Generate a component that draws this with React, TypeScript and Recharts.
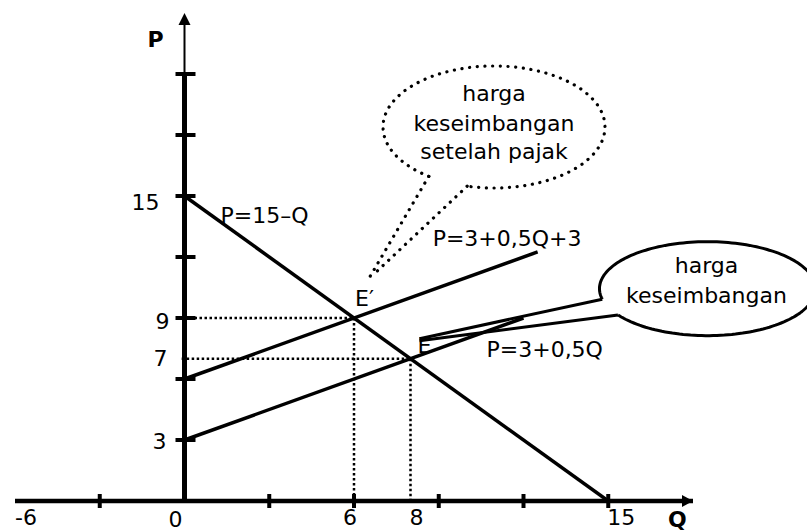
import React from 'react';
import { LineChart, Line, XAxis, YAxis, ReferenceLine, ReferenceDot } from 'recharts';

// market lines (Q, P)
const demand = [{ q: 0, p: 15 }, { q: 15, p: 0 }];
const supply = [{ q: 0, p: 3 }, { q: 12, p: 9 }];
const supplyTax = [{ q: 0, p: 6 }, { q: 12.5, p: 12.25 }];

// equilibria before / after tax
const eq = { q: 8, p: 7 };
const eqTax = { q: 6, p: 9 };

const xTicks = [-3, 3, 6, 9, 12, 15];
const yTicks = [3, 6, 9, 12, 15, 18, 21];
const xLabels = [
  { q: -6, text: '-6' },
  { q: 0, text: '0' },
  { q: 6, text: '6' },
  { q: 8, text: '8' },
  { q: 15, text: '15' },
];
const yLabels = [
  { p: 15, text: '15' },
  { p: 9, text: '9' },
  { p: 7, text: '7' },
  { p: 3, text: '3' },
];

const FONT = '"DejaVu Sans", Verdana, sans-serif';
const FS = 22;
const INK = '#000';

// small nudges for the axis numbers
const xNudge: Record<string, [number, number, string]> = {
  '-6': [0, 24, 'start'],
  '0': [-9, 26, 'middle'],
  '6': [-4, 24, 'middle'],
  '8': [6, 24, 'middle'],
  '15': [-1, 24, 'start'],
};
const yNudge: Record<string, [number, number]> = {
  '15': [-25, 14],
  '9': [-15, 11],
  '7': [-17, 7],
  '3': [-18, 9],
};

const textShape = (text: string, dx: number, dy: number, anchor = 'start', bold = false) =>
  (props: any) => (
    <text
      x={props.cx + dx}
      y={props.cy + dy}
      textAnchor={anchor as any}
      fontFamily={FONT}
      fontSize={FS}
      fontWeight={bold ? 'bold' : 'normal'}
      fill={INK}
    >
      {text}
    </text>
  );

const xTickShape = (props: any) => (
  <line x1={props.cx} x2={props.cx} y1={props.cy - 7} y2={props.cy + 7} stroke={INK} strokeWidth={4} />
);
const yTickShape = (props: any) => (
  <line x1={props.cx - 9} x2={props.cx + 11} y1={props.cy} y2={props.cy} stroke={INK} strokeWidth={4} />
);
const arrowUp = (props: any) => (
  <polygon points={`${props.cx},${props.cy} ${props.cx - 6},${props.cy + 12} ${props.cx + 6},${props.cy + 12}`} fill={INK} />
);
const arrowRight = (props: any) => (
  <polygon points={`${props.cx},${props.cy} ${props.cx - 11},${props.cy - 6} ${props.cx - 11},${props.cy + 6}`} fill={INK} />
);

const ellPt = (cx: number, cy: number, rx: number, ry: number, deg: number) => {
  const t = (deg * Math.PI) / 180;
  return [cx + rx * Math.cos(t), cy + ry * Math.sin(t)];
};

// ellipse outline with an opening between two angles (where the tail attaches)
const openEllipse = (cx: number, cy: number, rx: number, ry: number, gapA: number, gapB: number) => {
  const end = gapA + 360;
  const pts: number[][] = [];
  for (let a = gapB; a < end; a += 2) pts.push(ellPt(cx, cy, rx, ry, a));
  pts.push(ellPt(cx, cy, rx, ry, end));
  return pts.map((p, i) => `${i ? 'L' : 'M'}${p[0].toFixed(1)},${p[1].toFixed(1)}`).join(' ');
};

interface CalloutSpec {
  ox: number; oy: number; rx: number; ry: number;
  gapA: number; gapB: number;
  tipA: [number, number]; tipB: [number, number];
  lines: string[]; lineY: number[]; textDx: number;
  dotted: boolean;
}

const calloutShape = (s: CalloutSpec) => (props: any) => {
  const cx = props.cx + s.ox;
  const cy = props.cy + s.oy;
  const bA = ellPt(cx, cy, s.rx, s.ry, s.gapA);
  const bB = ellPt(cx, cy, s.rx, s.ry, s.gapB);
  const stroke = s.dotted
    ? { stroke: INK, strokeWidth: 3.2, strokeDasharray: '0.1 7.6', strokeLinecap: 'round' as const }
    : { stroke: INK, strokeWidth: 3, strokeLinejoin: 'round' as const };
  return (
    <g>
      <path d={openEllipse(cx, cy, s.rx, s.ry, s.gapA, s.gapB)} fill="none" {...stroke} />
      <path d={`M${bB[0]},${bB[1]} L${props.cx + s.tipB[0]},${props.cy + s.tipB[1]}`} fill="none" {...stroke} />
      <path d={`M${bA[0]},${bA[1]} L${props.cx + s.tipA[0]},${props.cy + s.tipA[1]}`} fill="none" {...stroke} />
      {s.lines.map((t, i) => (
        <text key={t} x={props.cx + s.textDx} y={props.cy + s.lineY[i]} textAnchor="middle"
          fontFamily={FONT} fontSize={FS} fill={INK}>
          {t}
        </text>
      ))}
    </g>
  );
};

const afterTaxCallout = calloutShape({
  ox: 140, oy: -191, rx: 111, ry: 61, gapA: 104, gapB: 126,
  tipA: [19, -43], tipB: [14, -38],
  lines: ['harga', 'keseimbangan', 'setelah pajak'], lineY: [-217, -187, -159], textDx: 140,
  dotted: true,
});

const beforeTaxCallout = calloutShape({
  ox: 297, oy: -70, rx: 108, ry: 47, gapA: 146, gapB: 167,
  tipA: [9, -18], tipB: [9, -20],
  lines: ['harga', 'keseimbangan'], lineY: [-86, -56], textDx: 296,
  dotted: false,
});

const line = (data: any[], key: string, dotted = false) => (
  <Line
    key={key}
    data={data}
    dataKey="p"
    type="linear"
    stroke={INK}
    strokeWidth={dotted ? 2.5 : 3.5}
    strokeDasharray={dotted ? '2.5 2.5' : undefined}
    dot={false}
    activeDot={false}
    isAnimationActive={false}
  />
);

export default function App() {
  const guides = [
    [{ q: 0, p: eqTax.p }, eqTax],
    [eqTax, { q: eqTax.q, p: 0 }],
    [{ q: -0.1, p: eq.p }, eq],
    [eq, { q: eq.q, p: 0 }],
  ];
  return (
    <div style={{ position: 'absolute', left: 0, top: 0, background: '#fff' }}>
      <LineChart width={807} height={531} margin={{ top: 13, right: 114, bottom: 30, left: 15 }}>
        <XAxis dataKey="q" type="number" domain={[-6, 18]} allowDataOverflow hide />
        <YAxis type="number" domain={[0, 24]} allowDataOverflow hide />

        {/* axes */}
        <ReferenceLine segment={[{ x: -6, y: 0 }, { x: 18, y: 0 }]} stroke={INK} strokeWidth={4.5} />
        <ReferenceLine segment={[{ x: 0, y: 0 }, { x: 0, y: 21 }]} stroke={INK} strokeWidth={5} />
        <ReferenceLine segment={[{ x: 0, y: 21 }, { x: 0, y: 23.5 }]} stroke={INK} strokeWidth={2} />
        <ReferenceDot x={0} y={24} shape={arrowUp} />
        <ReferenceDot x={18} y={0} shape={arrowRight} />
        {xTicks.map((v) => <ReferenceDot key={`xt${v}`} x={v} y={0} shape={xTickShape} />)}
        {yTicks.map((v) => <ReferenceDot key={`yt${v}`} x={0} y={v} shape={yTickShape} />)}
        {xLabels.map((l) => {
          const [dx, dy, a] = xNudge[l.text];
          return <ReferenceDot key={`xl${l.q}`} x={l.q} y={0} shape={textShape(l.text, dx, dy, a)} />;
        })}
        {yLabels.map((l) => {
          const [dx, dy] = yNudge[l.text];
          return <ReferenceDot key={`yl${l.p}`} x={0} y={l.p} shape={textShape(l.text, dx, dy, 'end')} />;
        })}
        <ReferenceDot x={0} y={24} shape={textShape('P', -37, 34, 'start', true)} />
        <ReferenceDot x={18} y={0} shape={textShape('Q', -25, 26, 'start', true)} />

        {guides.map((g, i) => line(g, `g${i}`, true))}
        {line(demand, 'demand')}
        {line(supply, 'supply')}
        {line(supplyTax, 'supplyTax')}

        {/* line names and equilibrium points */}
        <ReferenceDot x={0} y={15} shape={textShape('P=15–Q', 36, 27)} />
        <ReferenceDot x={12.5} y={12.25} shape={textShape('P=3+0,5Q+3', -105, -6)} />
        <ReferenceDot x={12} y={9} shape={textShape('P=3+0,5Q', -37, 39)} />
        <ReferenceDot x={eqTax.q} y={eqTax.p} shape={textShape('E′', 1, -12)} />
        <ReferenceDot x={eq.q} y={eq.p} shape={textShape('E', 7, -6)} />

        <ReferenceDot x={eqTax.q} y={eqTax.p} shape={afterTaxCallout} />
        <ReferenceDot x={eq.q} y={eq.p} shape={beforeTaxCallout} />
      </LineChart>
    </div>
  );
}
